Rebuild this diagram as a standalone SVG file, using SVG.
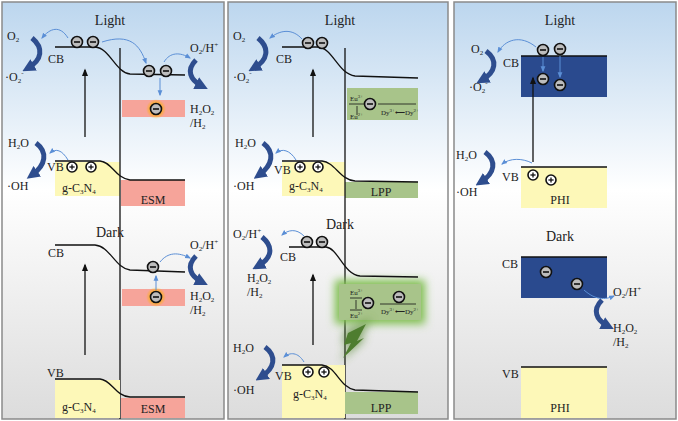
<svg xmlns="http://www.w3.org/2000/svg" width="678" height="421" viewBox="0 0 678 421">
<defs>
<linearGradient id="bg" x1="0" y1="0" x2="0" y2="1"><stop offset="0" stop-color="#bcd6ee"/><stop offset="0.45" stop-color="#ffffff"/><stop offset="1" stop-color="#dcdcdc"/></linearGradient>
<radialGradient id="glow"><stop offset="0.45" stop-color="#ffb000" stop-opacity="0.9"/><stop offset="1" stop-color="#ffb000" stop-opacity="0"/></radialGradient>
<filter id="gblur" x="-30%" y="-30%" width="160%" height="160%"><feGaussianBlur stdDeviation="4"/></filter>
<marker id="bh" viewBox="0 0 10 10" refX="5" refY="5" markerWidth="2.6" markerHeight="2.6" orient="auto"><path d="M0,0 L10,5 L0,10 z" fill="#2e4d8e"/></marker>
<marker id="lh" viewBox="0 0 10 10" refX="8" refY="5" markerWidth="6" markerHeight="6" orient="auto"><path d="M0,1 L10,5 L0,9 z" fill="#5b8fd6"/></marker>
<marker id="kh" viewBox="0 0 10 10" refX="8" refY="5" markerWidth="6" markerHeight="6" orient="auto"><path d="M0,1 L10,5 L0,9 z" fill="#111"/></marker>
<g id="e"><circle r="5.5" fill="#bdbdbd" stroke="#111" stroke-width="1.6"/><line x1="-3" y1="0" x2="3" y2="0" stroke="#111" stroke-width="1.6"/></g>
<g id="h"><circle r="5" fill="#fff" stroke="#111" stroke-width="1.6"/><line x1="-2.6" y1="0" x2="2.6" y2="0" stroke="#111" stroke-width="1.3"/><line x1="0" y1="-2.6" x2="0" y2="2.6" stroke="#111" stroke-width="1.3"/></g>
</defs>
<style>
text{font-family:"Liberation Serif",serif;font-size:12px;fill:#222}
.t{font-size:14px}
.s{font-size:7px}
.band{fill:none;stroke:#111;stroke-width:1.3}
.big{fill:none;stroke:#2e4d8e;stroke-width:5;marker-end:url(#bh)}
.thin{fill:none;stroke:#5b8fd6;stroke-width:1;marker-end:url(#lh)}
.up{stroke:#111;stroke-width:1.3;marker-end:url(#kh)}
.pan{fill:url(#bg);stroke:#8a8a8a;stroke-width:1.5}
</style>
<rect width="678" height="421" fill="#fff"/>
<rect class="pan" x="2" y="2" width="222" height="417"/>
<rect class="pan" x="228" y="2" width="220" height="417"/>
<rect class="pan" x="454" y="2" width="222" height="417"/>

<!-- Panel 1 light -->
<g id="p1light">
<text class="t" x="110" y="25" text-anchor="middle">Light</text>
<rect x="55" y="162" width="65" height="34" fill="#fdf8b8"/>
<rect x="122" y="100" width="63" height="17" fill="#f6a49a"/>
<rect x="121" y="180" width="64" height="26" fill="#f6a49a"/>
<path class="band" d="M55,47 L95,47 C110,48 115,72 130,74 L185,75"/>
<path class="band" d="M55,161 L100,161 C112,162 115,178 130,180 L185,180"/>
<line x1="120" y1="48" x2="120" y2="419" stroke="#111" stroke-width="1.3"/>
<line class="up" x1="85" y1="137" x2="85" y2="70"/>
<circle cx="156" cy="109" r="10" fill="url(#glow)"/>
<use href="#e" x="156" y="109"/>
<use href="#e" x="77" y="42"/><use href="#e" x="93" y="42"/>
<use href="#e" x="149" y="71"/><use href="#e" x="166" y="71"/>
<use href="#h" x="72" y="167"/><use href="#h" x="91" y="167"/>
<path class="thin" d="M68,38 C60,25 50,28 42,38"/>
<path class="thin" d="M102,42 C130,33 140,45 146,63"/>
<path class="thin" d="M160,78 L160,95"/>
<path class="thin" d="M164,62 C170,52 180,52 190,58"/>
<path class="thin" d="M68,160 C62,150 56,148 50,153"/>
<path class="big" d="M32,38 C44,48 42,60 28,68"/>
<path class="big" d="M196,60 C186,70 190,80 202,86"/>
<path class="big" d="M36,143 C48,152 46,165 32,175"/>
<text x="7" y="40">O<tspan class="s" dy="2">2</tspan></text>
<text x="48" y="63">CB</text>
<text x="5" y="81">·O<tspan class="s" dy="2">2</tspan><tspan class="s" dy="-8">-</tspan></text>
<text x="190" y="52">O<tspan class="s" dy="2">2</tspan><tspan dy="-2">/H</tspan><tspan class="s" dy="-5">+</tspan></text>
<text x="190" y="113">H<tspan class="s" dy="2">2</tspan><tspan dy="-2">O</tspan><tspan class="s" dy="2">2</tspan></text>
<text x="190" y="127">/H<tspan class="s" dy="2">2</tspan></text>
<text x="8" y="147">H<tspan class="s" dy="2">2</tspan><tspan dy="-2">O</tspan></text>
<text x="47" y="171">VB</text>
<text x="7" y="190">·OH</text>
<text x="62" y="192">g-C<tspan class="s" dy="2">3</tspan><tspan dy="-2">N</tspan><tspan class="s" dy="2">4</tspan></text>
<text x="153" y="204" text-anchor="middle">ESM</text>
</g>

<!-- Panel 1 dark -->
<g id="p1dark">
<text class="t" x="110" y="237" text-anchor="middle">Dark</text>
<rect x="55" y="380" width="65" height="38" fill="#fdf8b8"/>
<rect x="122" y="289" width="63" height="17" fill="#f6a49a"/>
<rect x="121" y="398" width="64" height="20" fill="#f6a49a"/>
<path class="band" d="M55,245 L95,245 C110,246 115,268 130,270 L185,272"/>
<path class="band" d="M55,379 L100,379 C112,380 115,396 130,397 L185,397"/>
<line class="up" x1="85" y1="355" x2="85" y2="265"/>
<circle cx="156" cy="297" r="10" fill="url(#glow)"/>
<use href="#e" x="156" y="297"/>
<use href="#e" x="153" y="267"/>
<path class="thin" d="M156,290 L156,276"/>
<path class="thin" d="M160,262 C168,252 178,252 190,258"/>
<path class="big" d="M196,256 C186,266 190,276 202,282"/>
<text x="48" y="257">CB</text>
<text x="47" y="377">VB</text>
<text x="190" y="249">O<tspan class="s" dy="2">2</tspan><tspan dy="-2">/H</tspan><tspan class="s" dy="-5">+</tspan></text>
<text x="190" y="300">H<tspan class="s" dy="2">2</tspan><tspan dy="-2">O</tspan><tspan class="s" dy="2">2</tspan></text>
<text x="190" y="314">/H<tspan class="s" dy="2">2</tspan></text>
<text x="62" y="411">g-C<tspan class="s" dy="2">3</tspan><tspan dy="-2">N</tspan><tspan class="s" dy="2">4</tspan></text>
<text x="153" y="413" text-anchor="middle">ESM</text>
</g>

<!-- Panel 2 light -->
<g id="p2light">
<text class="t" x="340" y="25" text-anchor="middle">Light</text>
<rect x="282" y="162" width="63" height="34" fill="#fdf8b8"/>
<rect x="345" y="182" width="73" height="16" fill="#a8c48a"/>
<rect x="347" y="88" width="71" height="32" fill="#a8c48a"/>
<path class="band" d="M282,47 L318,47 C333,48 338,74 355,76 L418,78"/>
<path class="band" d="M282,161 L322,161 C335,162 340,180 355,181 L418,182"/>
<line x1="345" y1="48" x2="345" y2="419" stroke="#111" stroke-width="1.3"/>
<line class="up" x1="313" y1="137" x2="313" y2="70"/>
<use href="#e" x="308" y="43"/><use href="#e" x="322" y="43"/>
<use href="#h" x="300" y="167"/><use href="#h" x="318" y="167"/>
<path class="thin" d="M302,39 C292,28 280,30 270,38"/>
<path class="thin" d="M296,160 C290,150 282,148 276,153"/>
<path class="big" d="M258,38 C270,48 268,60 254,68"/>
<path class="big" d="M263,143 C275,152 273,165 259,175"/>
<line x1="349" y1="104" x2="366" y2="104" stroke="#111" stroke-width="0.8"/>
<line x1="378" y1="104" x2="416" y2="104" stroke="#111" stroke-width="0.8"/>
<line x1="357" y1="115" x2="357" y2="106" stroke="#111" stroke-width="0.8"/>
<use href="#e" x="370" y="104"/>
<text class="s" x="350" y="101">Eu<tspan font-size="5" dy="-3">3+</tspan></text>
<text class="s" x="350" y="119">Eu<tspan font-size="5" dy="-3">2+</tspan></text>
<text class="s" x="381" y="115">Dy<tspan font-size="5" dy="-3">3+</tspan><tspan dy="3">⟵Dy</tspan><tspan font-size="5" dy="-3">2+</tspan></text>
<text x="233" y="40">O<tspan class="s" dy="2">2</tspan></text>
<text x="276" y="63">CB</text>
<text x="233" y="81">·O<tspan class="s" dy="2">2</tspan><tspan class="s" dy="-8">-</tspan></text>
<text x="235" y="147">H<tspan class="s" dy="2">2</tspan><tspan dy="-2">O</tspan></text>
<text x="274" y="174">VB</text>
<text x="233" y="190">·OH</text>
<text x="289" y="190">g-C<tspan class="s" dy="2">3</tspan><tspan dy="-2">N</tspan><tspan class="s" dy="2">4</tspan></text>
<text x="381" y="196" text-anchor="middle">LPP</text>
</g>

<!-- Panel 2 dark -->
<g id="p2dark">
<text class="t" x="340" y="229" text-anchor="middle">Dark</text>
<rect x="282" y="365" width="63" height="53" fill="#fdf8b8"/>
<rect x="345" y="392" width="73" height="22" fill="#a8c48a"/>
<rect x="335" y="280" width="90" height="44" fill="#7fbf50" filter="url(#gblur)"/>
<rect x="339" y="284" width="82" height="36" fill="#a8c48a"/>
<path d="M345,330 L372,318 L360,340 L368,337 L340,362 L350,342 L342,345 Z" fill="#5f8f3a" filter="url(#gblur)" opacity="0.7"/>
<path d="M348,333 L366,324 L357,341 L364,338 L343,358 L351,343 L344,345 Z" fill="#4e7d2f"/>
<path class="band" d="M289,247 L326,247 C338,248 344,275 360,276 L418,277"/>
<path class="band" d="M282,365 L322,365 C336,366 340,388 355,390 L418,392"/>
<line class="up" x1="313" y1="345" x2="313" y2="275"/>
<use href="#e" x="307" y="242"/><use href="#e" x="322" y="242"/>
<use href="#h" x="308" y="372"/><use href="#h" x="324" y="372"/>
<path class="thin" d="M304,236 C296,228 288,230 282,235"/>
<path class="thin" d="M304,362 C298,352 290,352 284,357"/>
<path class="big" d="M262,237 C274,247 272,258 258,266"/>
<path class="big" d="M265,347 C277,356 275,368 261,377"/>
<line x1="350" y1="298" x2="362" y2="298" stroke="#111" stroke-width="0.8"/>
<line x1="350" y1="310" x2="362" y2="310" stroke="#111" stroke-width="0.8"/>
<line x1="380" y1="304" x2="416" y2="304" stroke="#111" stroke-width="0.8"/>
<line x1="356" y1="300" x2="356" y2="309" stroke="#111" stroke-width="0.8"/>
<use href="#e" x="368" y="303"/>
<use href="#e" x="399" y="297"/>
<text class="s" x="350" y="295">Eu<tspan font-size="5" dy="-3">3+</tspan></text>
<text class="s" x="350" y="318">Eu<tspan font-size="5" dy="-3">2+</tspan></text>
<text class="s" x="381" y="314">Dy<tspan font-size="5" dy="-3">3+</tspan><tspan dy="3">⟵Dy</tspan><tspan font-size="5" dy="-3">2+</tspan></text>
<text x="233" y="238">O<tspan class="s" dy="2">2</tspan><tspan dy="-2">/H</tspan><tspan class="s" dy="-5">+</tspan></text>
<text x="280" y="261">CB</text>
<text x="247" y="282">H<tspan class="s" dy="2">2</tspan><tspan dy="-2">O</tspan><tspan class="s" dy="2">2</tspan></text>
<text x="247" y="296">/H<tspan class="s" dy="2">2</tspan></text>
<text x="233" y="352">H<tspan class="s" dy="2">2</tspan><tspan dy="-2">O</tspan></text>
<text x="275" y="380">VB</text>
<text x="233" y="394">·OH</text>
<text x="293" y="398">g-C<tspan class="s" dy="2">3</tspan><tspan dy="-2">N</tspan><tspan class="s" dy="2">4</tspan></text>
<text x="381" y="412" text-anchor="middle">LPP</text>
</g>

<!-- Panel 3 light -->
<g id="p3light">
<text class="t" x="560" y="25" text-anchor="middle">Light</text>
<rect x="521" y="56" width="86" height="41" fill="#2a4a8e"/>
<line x1="521" y1="56" x2="607" y2="56" stroke="#111" stroke-width="1.3"/>
<rect x="521" y="167" width="86" height="41" fill="#fdf8b8"/>
<line x1="521" y1="167" x2="607" y2="167" stroke="#111" stroke-width="1.3"/>
<line class="up" x1="533" y1="162" x2="533" y2="78"/>
<use href="#e" x="543" y="50"/><use href="#e" x="560" y="49"/>
<use href="#e" x="543" y="79"/><use href="#e" x="560" y="85"/>
<use href="#h" x="533" y="175"/><use href="#h" x="551" y="180"/>
<path class="thin" d="M543,57 L543,71"/>
<path class="thin" d="M560,56 L560,77"/>
<path class="thin" d="M536,47 C520,34 505,40 498,52"/>
<path class="thin" d="M532,163 C522,158 510,158 502,164"/>
<path class="big" d="M486,51 C498,60 496,72 482,80"/>
<path class="big" d="M485,152 C497,161 495,173 481,182"/>
<text x="471" y="53">O<tspan class="s" dy="2">2</tspan></text>
<text x="503" y="67">CB</text>
<text x="469" y="91">·O<tspan class="s" dy="2">2</tspan><tspan class="s" dy="-8">-</tspan></text>
<text x="456" y="159">H<tspan class="s" dy="2">2</tspan><tspan dy="-2">O</tspan></text>
<text x="502" y="181">VB</text>
<text x="456" y="196">·OH</text>
<text x="560" y="204" text-anchor="middle">PHI</text>
</g>

<!-- Panel 3 dark -->
<g id="p3dark">
<text class="t" x="560" y="241" text-anchor="middle">Dark</text>
<rect x="521" y="257" width="86" height="41" fill="#2a4a8e"/>
<line x1="521" y1="257" x2="607" y2="257" stroke="#111" stroke-width="1.3"/>
<rect x="521" y="367" width="86" height="51" fill="#fdf8b8"/>
<line x1="521" y1="367" x2="607" y2="367" stroke="#111" stroke-width="1.3"/>
<use href="#e" x="546" y="272"/><use href="#e" x="577" y="284"/>
<path class="thin" d="M584,290 C595,300 605,300 614,296"/>
<path class="big" d="M602,300 C592,310 596,320 608,326"/>
<text x="502" y="268">CB</text>
<text x="502" y="378">VB</text>
<text x="613" y="296">O<tspan class="s" dy="2">2</tspan><tspan dy="-2">/H</tspan><tspan class="s" dy="-5">+</tspan></text>
<text x="613" y="332">H<tspan class="s" dy="2">2</tspan><tspan dy="-2">O</tspan><tspan class="s" dy="2">2</tspan></text>
<text x="613" y="346">/H<tspan class="s" dy="2">2</tspan></text>
<text x="560" y="412" text-anchor="middle">PHI</text>
</g>
</svg>
